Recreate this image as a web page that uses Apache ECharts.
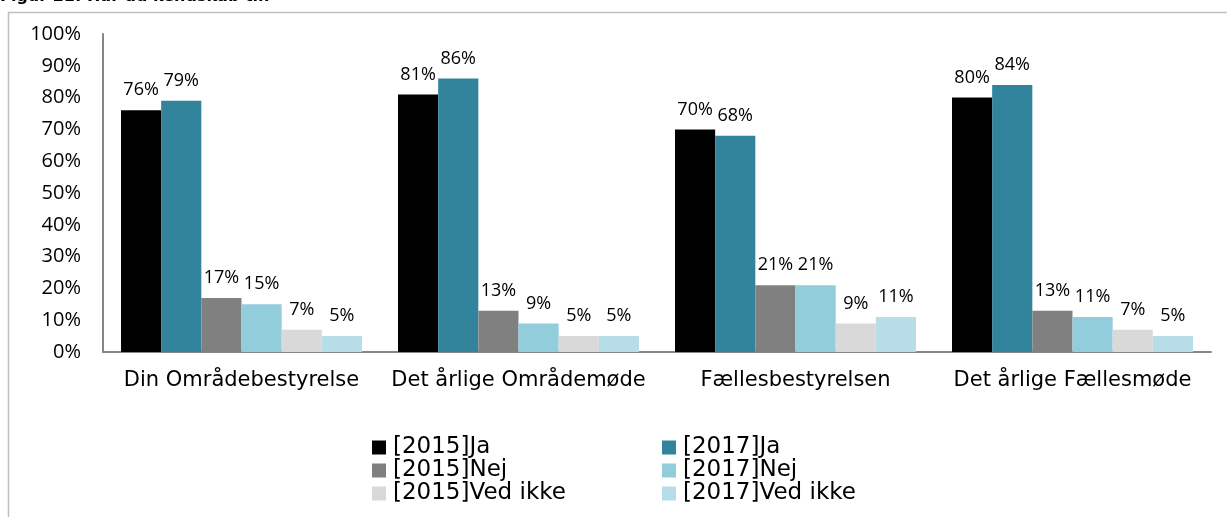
<!DOCTYPE html>
<html>
<head>
<meta charset="utf-8">
<script src="https://cdn.jsdelivr.net/npm/echarts@6/dist/echarts.min.js"></script>
<style>
  html, body { margin: 0; padding: 0; background: #fff; }
  #chart { width: 1227px; height: 517px; }
</style>
</head>
<body>
<div id="chart"></div>
<script>
// Kendskab til områdets organer, 2015 vs 2017 (andel i %)
const categories = ['Din Områdebestyrelse', 'Det årlige Områdemøde', 'Fællesbestyrelsen', 'Det årlige Fællesmøde'];
const seriesNames = ['[2015]Ja', '[2017]Ja', '[2015]Nej', '[2017]Nej', '[2015]Ved ikke', '[2017]Ved ikke'];
const ja2015 = [76, 81, 70, 80];
const ja2017 = [79, 86, 68, 84];
const nej2015 = [17, 13, 21, 13];
const nej2017 = [15, 9, 21, 11];
const vedIkke2015 = [7, 5, 9, 7];
const vedIkke2017 = [5, 5, 11, 5];
const yTicks = [0, 10, 20, 30, 40, 50, 60, 70, 80, 90, 100];

const colors = ['#000000', '#31849b', '#808080', '#92cddc', '#d9d9d9', '#b7dee8'];
const values = [ja2015, ja2017, nej2015, nej2017, vedIkke2015, vedIkke2017];

const chart = echarts.init(document.getElementById('chart'));

const legendText = { fontFamily: 'DejaVu Sans', fontSize: 23, lineHeight: 22, color: '#000', padding: [0, 0, 0, 2] };
const legendBase = {
  orient: 'vertical',
  top: 431,
  itemWidth: 14,
  itemHeight: 14,
  itemGap: 0,
  icon: 'rect',
  textStyle: legendText,
};

chart.setOption({
  animation: false,
  color: colors,
  graphic: [
    {
      type: 'rect',
      shape: { x: 8.5, y: 12.5, width: 1400, height: 700 },
      style: { fill: 'none', stroke: '#c0c0c0', lineWidth: 1.5 },
      silent: true,
    },
    {
      type: 'text',
      left: 0,
      top: -11,
      style: { text: 'Figur 21: Har du kendskab til:', font: 'bold 16px "DejaVu Sans"', fill: '#000' },
    },
  ],
  grid: { left: 103, right: 16, top: 34, bottom: 165, containLabel: false },
  legend: [
    Object.assign({}, legendBase, { left: 367, data: seriesNames.filter((n) => n.startsWith('[2015]')) }),
    Object.assign({}, legendBase, { left: 657, data: seriesNames.filter((n) => n.startsWith('[2017]')) }),
  ],
  xAxis: {
    type: 'category',
    data: categories,
    axisLine: { lineStyle: { color: '#868686', width: 2 } },
    axisTick: { show: false },
    axisLabel: { fontFamily: 'DejaVu Sans', fontSize: 21, color: '#000', margin: 18, interval: 0 },
  },
  yAxis: {
    type: 'value',
    min: yTicks[0],
    max: yTicks[yTicks.length - 1],
    interval: 10,
    axisLine: { show: true, lineStyle: { color: '#868686', width: 2 } },
    axisTick: { show: false },
    splitLine: { show: false },
    axisLabel: { fontFamily: 'Open Sans', fontSize: 20, color: '#000', margin: 22, formatter: '{value}%' },
  },
  series: seriesNames.map((name, i) => ({
    name,
    type: 'bar',
    data: values[i],
    barGap: '0%',
    barCategoryGap: '13%',
    label: {
      show: true,
      position: 'top',
      distance: 11,
      formatter: '{c}%',
      fontFamily: 'Open Sans',
      fontSize: 18,
      color: '#000',
    },
  })),
});
</script>
</body>
</html>
